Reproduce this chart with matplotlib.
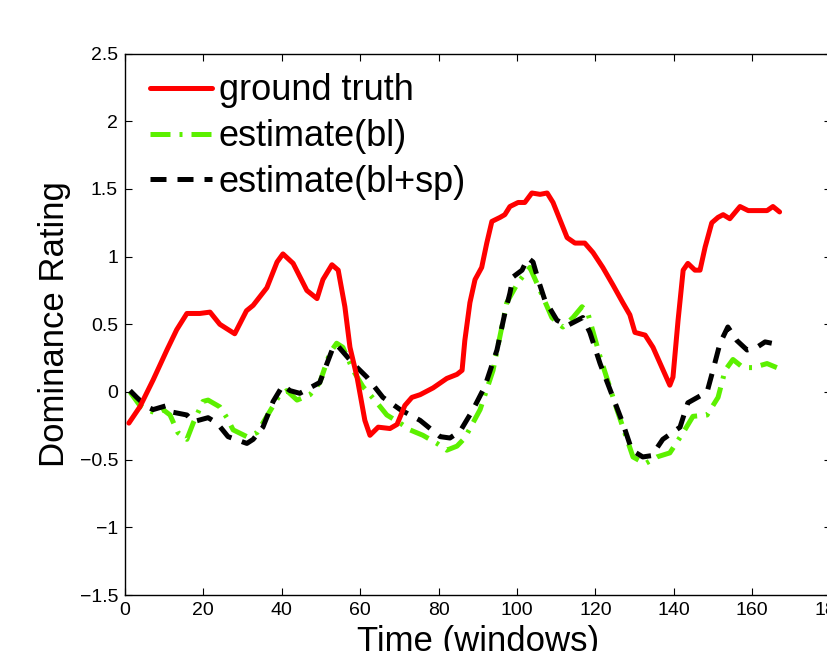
import matplotlib
matplotlib.use("Agg")
import matplotlib.pyplot as plt

plt.rcParams['font.family'] = ['Liberation Sans', 'DejaVu Sans']

# ground truth
gt_x = [1, 3.8, 7.2, 10.7, 13.2, 15.8, 19.1, 21.7, 24.2, 28, 31, 32.7, 36.2, 38.8, 40.3,
        42.9, 46.4, 49, 50.5, 52.8, 54.4, 56.1, 57.4, 59.2, 61.2, 62.5, 64.6, 67.6, 69.4,
        71.4, 73.2, 75.3, 78.6, 82.1, 84.7, 86, 86.7, 88, 89.3, 91, 92.3, 93.6, 95.7, 96.9,
        98.2, 100.3, 102, 103.8, 105.9, 107.7, 109.2, 111, 112.8, 114.8, 117.3, 119.4,
        121.9, 124.5, 127, 128.8, 130.1, 132.7, 134.7, 137, 139, 139.8, 141.1, 142.4,
        143.6, 145.4, 146.7, 148, 149.7, 151.3, 152.6, 154.3, 156.9, 159, 161.5, 163.8,
        165.3, 167]
gt_y = [-0.23, -0.11, 0.09, 0.31, 0.46, 0.58, 0.58, 0.59, 0.50, 0.43, 0.60, 0.64, 0.77,
        0.96, 1.02, 0.95, 0.75, 0.69, 0.83, 0.94, 0.90, 0.63, 0.33, 0.11, -0.21, -0.32,
        -0.26, -0.27, -0.24, -0.10, -0.04, -0.02, 0.03, 0.10, 0.13, 0.16, 0.38, 0.66, 0.83,
        0.92, 1.10, 1.26, 1.29, 1.31, 1.37, 1.40, 1.40, 1.47, 1.46, 1.47, 1.40, 1.27, 1.14,
        1.10, 1.10, 1.03, 0.92, 0.79, 0.66, 0.57, 0.44, 0.42, 0.33, 0.18, 0.05, 0.11, 0.53,
        0.90, 0.95, 0.90, 0.90, 1.07, 1.25, 1.29, 1.31, 1.28, 1.37, 1.34, 1.34, 1.34, 1.37,
        1.33]

# estimate(bl)
bl_x = [1.3, 3.8, 5.6, 8.2, 9.7, 11.5, 13.5, 15.8, 17.4, 19.9, 21.2, 24.2, 26, 27.6, 31.1,
        33.7, 36.2, 39.5, 41.3, 43.9, 47.2, 49.7, 52.3, 54, 55.6, 58.2, 60.7, 64.3, 66.8,
        70.2, 72.7, 76, 79.6, 82.1, 84.7, 86.7, 90.6, 93.9, 97.4, 100.3, 103.3, 105.9, 108.9,
        111.7, 114.3, 116.6, 118.1, 121.2, 125.5, 129.6, 132.7, 135.7, 139, 142.4, 144.9,
        148.5, 151.3, 153.1, 155.1, 157.7, 160.2, 163.8, 166.3]
bl_y = [0.0, -0.10, -0.13, -0.16, -0.13, -0.17, -0.30, -0.35, -0.23, -0.07, -0.06, -0.11,
        -0.19, -0.28, -0.33, -0.30, -0.18, -0.02, 0.01, -0.06, -0.02, 0.07, 0.29, 0.36, 0.33,
        0.16, 0.04, -0.08, -0.17, -0.23, -0.28, -0.32, -0.38, -0.43, -0.40, -0.34, -0.13,
        0.16, 0.66, 0.81, 0.92, 0.75, 0.55, 0.48, 0.55, 0.63, 0.58, 0.26, -0.13, -0.48,
        -0.53, -0.48, -0.45, -0.30, -0.18, -0.17, -0.04, 0.16, 0.24, 0.18, 0.18, 0.21, 0.18]

# estimate(bl+sp)
sp_x = [1.3, 3, 5.6, 7.2, 10.7, 12.3, 15.8, 17.4, 21.2, 23.5, 26.3, 31.1, 32.7, 35.2, 37.8,
        40.3, 42.1, 44.6, 49.7, 53.1, 54, 58.2, 61.7, 65.8, 70.2, 75.3, 80.4, 82.9, 85.5,
        88.8, 91.8, 94.9, 96.9, 98.2, 99, 101.3, 102.8, 104.1, 105.4, 107.1, 110.2, 112.8,
        114.8, 116.8, 118.6, 121.2, 124.5, 127, 129.3, 132.1, 134.4, 137.2, 141.6, 143.6,
        148.5, 150, 151.8, 153.8, 156.1, 158.7, 161.2, 163.3, 165]
sp_y = [0.01, -0.04, -0.11, -0.13, -0.10, -0.15, -0.17, -0.22, -0.19, -0.23, -0.33, -0.38,
        -0.35, -0.26, -0.07, 0.05, 0.01, -0.01, 0.07, 0.33, 0.35, 0.21, 0.11, -0.04, -0.13,
        -0.21, -0.33, -0.34, -0.29, -0.13, 0.04, 0.31, 0.58, 0.73, 0.85, 0.90, 0.99, 0.96,
        0.83, 0.68, 0.53, 0.49, 0.52, 0.55, 0.44, 0.21, -0.04, -0.23, -0.43, -0.48, -0.47,
        -0.35, -0.26, -0.08, 0.00, 0.16, 0.36, 0.48, 0.38, 0.31, 0.33, 0.37, 0.36]

x_ticks = [0, 20, 40, 60, 80, 100, 120, 140, 160, 180]
y_ticks = [-1.5, -1, -0.5, 0, 0.5, 1, 1.5, 2, 2.5]
y_ticklabels = ['\u22121.5', '\u22121', '\u22120.5', '0', '0.5', '1', '1.5', '2', '2.5']

fig = plt.figure(figsize=(8.27, 6.51), dpi=100)
ax = fig.add_axes([0.1511, 0.086, 0.8532, 0.8317])

ax.plot(gt_x, gt_y, color='#ff0000', lw=3.6, label='ground truth', zorder=4,
        solid_joinstyle='round', solid_capstyle='round')
ax.plot(bl_x, bl_y, color='#5cf000', lw=3.6, linestyle=(0, (4, 1.8, 0.6, 1.8)),
        label='estimate(bl)', zorder=2)
ax.plot(sp_x, sp_y, color='black', lw=3.6, linestyle=(0, (3.2, 2.2)),
        label='estimate(bl+sp)', zorder=3)

ax.set_xlim(0, 180)
ax.set_ylim(-1.5, 2.5)
ax.set_xticks(x_ticks)
ax.set_yticks(y_ticks)
ax.set_yticklabels(y_ticklabels)
ax.tick_params(direction='in', length=5, width=0.8, top=True, right=True,
               labelsize=14, pad=5)
for s in ax.spines.values():
    s.set_linewidth(1.0)

ax.set_ylabel('Dominance Rating', fontsize=25, labelpad=6)
ax.set_xlabel('Time (windows)', fontsize=25, labelpad=4)

leg = ax.legend(loc='upper left', fontsize=26, frameon=False, handlelength=1.7,
                handletextpad=0.2, labelspacing=0.3, borderaxespad=0.3,
                bbox_to_anchor=(0.0, 1.01))

fig.savefig('out.png', dpi=100)
